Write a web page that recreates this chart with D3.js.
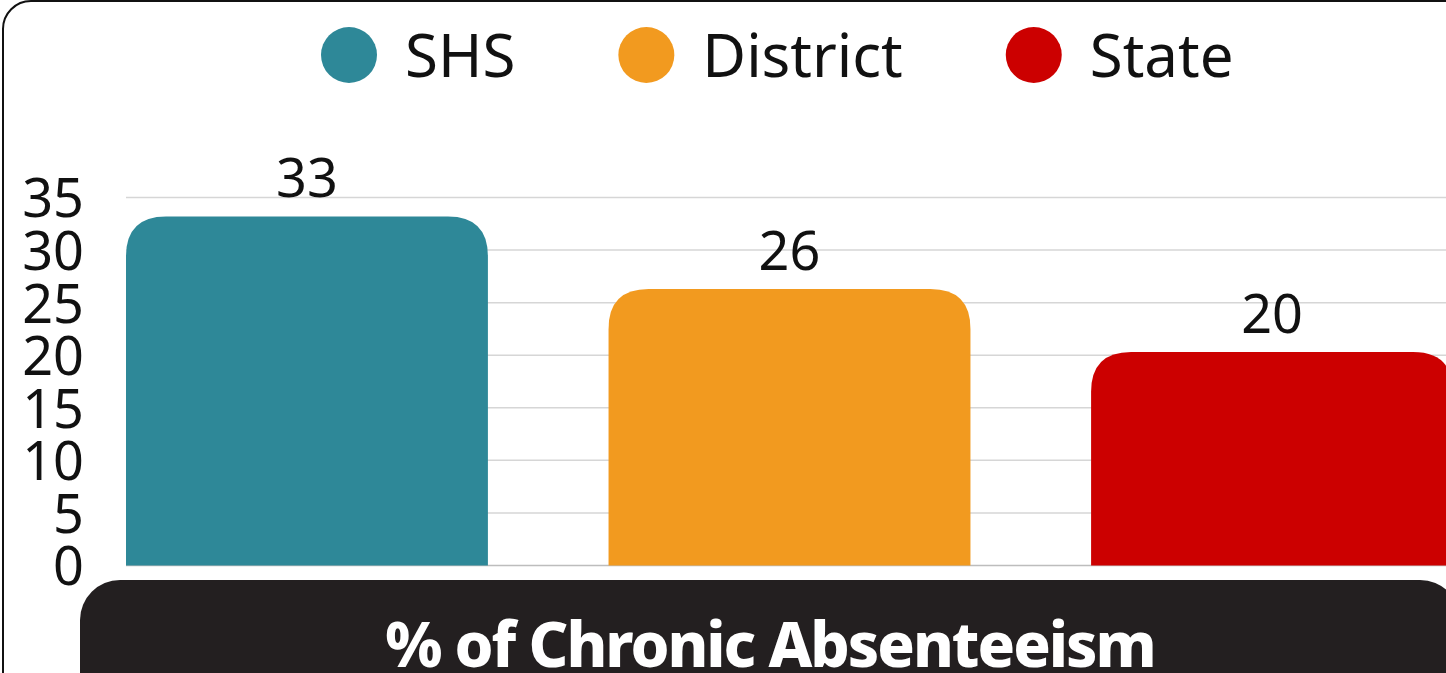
<!DOCTYPE html>
<html lang="en">
<head>
    <meta charset="UTF-8">
    <script src="https://d3js.org/d3.v7.min.js"></script>
    <style>
        body { margin: 0; background: #fff; overflow: hidden; }
        svg { display: block; }
        text { font-family: "Noto Sans", "Open Sans", sans-serif; }
    </style>
</head>
<body>
<div id="chart"></div>
<script>
    // data
    const categories = ["SHS", "District", "State"];
    const values = [33.2, 26.3, 20.3];
    const colors = ["#2e8898", "#f29a1f", "#cc0000"];
    const yTicks = [0, 5, 10, 15, 20, 25, 30, 35];
    const title = "% of Chronic Absenteeism";

    const width = 1446, height = 673;
    const svg = d3.select("#chart").append("svg")
        .attr("width", width)
        .attr("height", height);

    // outer rounded frame
    svg.append("rect")
        .attr("x", 3).attr("y", 1)
        .attr("width", 1500).attr("height", 760)
        .attr("rx", 28)
        .attr("fill", "none")
        .attr("stroke", "#111")
        .attr("stroke-width", 2);

    const x = d3.scaleBand()
        .domain(categories)
        .range([126, 1453])
        .paddingInner(0.25)
        .paddingOuter(0);

    const y = d3.scaleLinear()
        .domain([0, 35])
        .range([565.5, 197.5]);

    // gridlines
    svg.append("g")
        .selectAll("line")
        .data(yTicks)
        .enter().append("line")
        .attr("x1", 126).attr("x2", width)
        .attr("y1", d => y(d)).attr("y2", d => y(d))
        .attr("stroke", d => d === 0 ? "#bdbdbd" : "#d6d6d6")
        .attr("stroke-width", 1.5);

    // y axis labels
    const yAxis = svg.append("g")
        .attr("transform", "translate(84,0)")
        .call(d3.axisLeft(y).tickValues(yTicks).tickSize(0).tickPadding(0));
    yAxis.select(".domain").remove();
    yAxis.selectAll("text")
        .attr("font-family", "Noto Sans, sans-serif")
        .attr("font-size", 54)
        .attr("fill", "#111")
        .attr("dy", "0.36em");

    // bars with rounded tops
    const r = 40;
    function barPath(d, i) {
        const x0 = x(categories[i]), x1 = x0 + x.bandwidth();
        const top = y(d), base = y(0);
        return `M${x0},${base} V${top + r} Q${x0},${top} ${x0 + r},${top} H${x1 - r} Q${x1},${top} ${x1},${top + r} V${base} Z`;
    }

    svg.append("g")
        .selectAll("path")
        .data(values)
        .enter().append("path")
        .attr("d", barPath)
        .attr("fill", (d, i) => colors[i]);

    // value labels
    svg.append("g")
        .selectAll("text")
        .data(values)
        .enter().append("text")
        .attr("x", (d, i) => x(categories[i]) + x.bandwidth() / 2)
        .attr("y", d => y(d) - 19)
        .attr("text-anchor", "middle")
        .attr("font-size", 54)
        .attr("fill", "#111")
        .text(d => d3.format(".0f")(d));

    // legend
    const legend = svg.append("g");
    let lx = 321;
    categories.forEach((c, i) => {
        legend.append("circle")
            .attr("cx", lx + 28).attr("cy", 55).attr("r", 28)
            .attr("fill", colors[i]);
        const t = legend.append("text")
            .attr("x", lx + 84).attr("y", 55)
            .attr("dy", "0.36em")
            .attr("font-size", 60)
            .attr("fill", "#111")
            .text(c);
        lx = lx + 84 + t.node().getComputedTextLength() + 103;
    });

    // black title banner
    svg.append("rect")
        .attr("x", 80).attr("y", 580)
        .attr("width", 1380).attr("height", 160)
        .attr("rx", 40)
        .attr("fill", "#231f20");

    svg.append("text")
        .attr("x", 770).attr("y", 667)
        .attr("text-anchor", "middle")
        .attr("font-family", "Inter, Open Sans, sans-serif")
        .attr("font-weight", 800)
        .attr("font-size", 62)
        .attr("letter-spacing", -2)
        .attr("fill", "#fff")
        .text(title);
</script>
</body>
</html>
